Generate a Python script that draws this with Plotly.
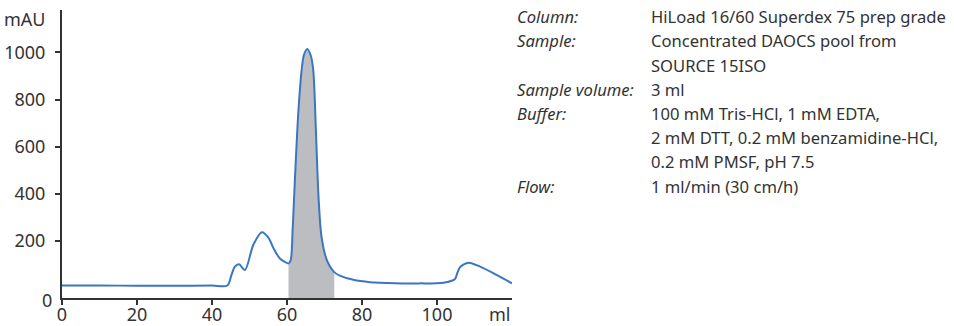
import plotly.graph_objects as go
import numpy as np

# chromatogram (ml, mAU)
volume_ml = [0, 10, 20, 30, 40, 44.1, 45.2, 46.1, 47.2, 48.8, 51.0, 53.3, 55.0, 56.4, 58.1,
             60.4, 61.0, 61.5, 62.1, 63.0, 63.9, 64.5, 65.4, 66.3, 67.0, 67.7, 68.4, 69.2,
             70.6, 72.6, 74.1, 77.7, 82.1, 88.8, 95.0, 101.7, 104.8, 105.4, 106.1, 108.4,
             111.5, 115.9, 120.0]
absorbance = [11, 11, 10, 10, 11, 11, 56, 91, 101, 77, 183, 237, 215, 169, 126,
              105, 120, 247, 459, 741, 925, 989, 1015, 989, 925, 671, 388, 218,
              120, 68, 53, 35, 25, 20.5, 20, 23, 39, 63, 88, 108,
              91, 56, 20]

# pooled fraction (shaded)
pool_start = 60.4
pool_end = 72.6

y_ticks = [200, 400, 600, 800, 1000]
y_bottom = -42  # axis line sits a little below the data zero

info_labels = ["Column:", "Sample:", "", "Sample volume:", "Buffer:", "", "", "Flow:"]
info_values = ["HiLoad 16/60 Superdex 75 prep grade",
               "Concentrated DAOCS pool from",
               "SOURCE 15ISO",
               "3 ml",
               "100 mM Tris-HCl, 1 mM EDTA,",
               "2 mM DTT, 0.2 mM benzamidine-HCl,",
               "0.2 mM PMSF, pH 7.5",
               "1 ml/min (30 cm/h)"]

FONT = "Noto Sans"
TXT = "#333333"
TICK_SIZE = 18
INFO_SIZE = 16.6

x = np.array(volume_ml)
y = np.array(absorbance)
mask = (x >= pool_start) & (x <= pool_end)

fig = go.Figure()
# base for the shaded pool
fig.add_trace(go.Scatter(x=[pool_start, pool_end], y=[y_bottom, y_bottom], mode='lines',
                         line=dict(width=0, color='rgba(0,0,0,0)'), hoverinfo='skip', showlegend=False))
fig.add_trace(go.Scatter(x=x[mask], y=y[mask], mode='lines', line=dict(width=0, shape='spline', smoothing=0.8),
                         fill='tonexty', fillcolor='#bcbdc0', hoverinfo='skip', showlegend=False))
fig.add_trace(go.Scatter(x=x, y=y, mode='lines', line=dict(color='#3a76c2', width=2, shape='spline', smoothing=0.8),
                         showlegend=False))

L, R, T, B = 62, 442, 10, 28
W, H = 954, 326
pw = W - L - R
ph = H - T - B

def px_x(p):
    return (p - L) / pw

def px_y(p):
    return (H - B - p) / ph

ann = []
ann.append(dict(text="mAU", x=px_x(48), y=px_y(19), xanchor='right', yanchor='middle'))
ann.append(dict(text="0", x=px_x(54), y=px_y(300), xanchor='right', yanchor='middle'))
ann.append(dict(text="ml", x=px_x(512), y=px_y(313.5), xanchor='right', yanchor='middle'))
for i, (lab, val) in enumerate(zip(info_labels, info_values)):
    yy = px_y(16.7 + 24.2 * i)
    if lab:
        ann.append(dict(text="<i>" + lab + "</i>", x=px_x(515), y=yy, xanchor='left', yanchor='middle',
                        font=dict(size=INFO_SIZE, family=FONT, color=TXT)))
    ann.append(dict(text=val, x=px_x(649), y=yy, xanchor='left', yanchor='middle',
                    font=dict(size=INFO_SIZE, family=FONT, color=TXT)))
for a in ann:
    a.update(xref='paper', yref='paper', showarrow=False)
    a.setdefault('font', dict(size=TICK_SIZE, family=FONT, color=TXT))

fig.update_layout(
    width=W, height=H, margin=dict(l=L, r=R, t=T, b=B, autoexpand=False),
    plot_bgcolor='white', paper_bgcolor='white',
    font=dict(family=FONT, size=TICK_SIZE, color=TXT),
    annotations=ann,
)
fig.update_xaxes(range=[0, 120], tickvals=[0, 20, 40, 60, 80, 100], showgrid=False, zeroline=False,
                 showline=True, linecolor='#333333', linewidth=2, ticks='outside', ticklen=5,
                 tickwidth=1.5, tickcolor='#333333', automargin=False, ticklabelstandoff=-6)
fig.update_yaxes(range=[y_bottom, 1180], tickvals=y_ticks, showgrid=False, zeroline=False,
                 showline=True, linecolor='#333333', linewidth=2, ticks='outside', ticklen=5,
                 tickwidth=1.5, tickcolor='#333333', ticklabelstandoff=6, automargin=False)

# page body has a default 8px margin; drop it so the figure sits at the window corner
fig.write_html("out.html", config={'displayModeBar': False},
               post_script="document.body.style.margin='0px';")
